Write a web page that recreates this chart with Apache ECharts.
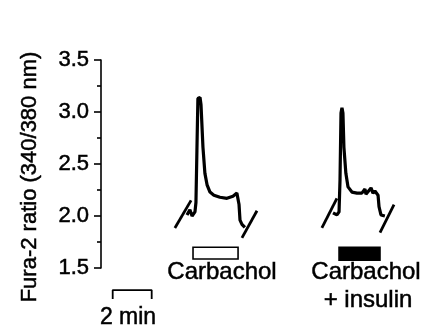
<!DOCTYPE html>
<html><head><meta charset="utf-8">
<script src="https://cdn.jsdelivr.net/npm/echarts@6/dist/echarts.min.js"></script>
<style>html,body{margin:0;padding:0;background:#fff}#c{width:426px;height:329px}</style>
</head><body><div id="c"></div>
<script>
// time in minutes (hidden axis), ratio values
const yTicks = [1.5, 2.0, 2.5, 3.0, 3.5];
const trace1T = [4.41,4.56,4.67,4.82,4.87,4.92,4.97,5.08,5.13,5.23,5.33,5.44,5.59,5.79,6.10,6.46,6.77,6.97,7.08,7.13,7.23,7.38];
const trace1V = [2.01,2.06,2.00,2.04,2.13,2.63,3.13,3.14,3.07,2.66,2.41,2.30,2.23,2.20,2.18,2.17,2.19,2.22,2.11,1.96,1.92,1.89];
const trace2T = [11.90,12.10,12.21,12.26,12.31,12.36,12.41,12.46,12.56,12.67,12.87,13.13,13.38,13.54,13.59,13.69,13.85,13.95,14.05,14.21,14.26,14.36,14.56];
const trace2V = [2.03,2.01,2.04,2.35,2.99,3.04,2.99,2.66,2.41,2.28,2.23,2.22,2.22,2.26,2.21,2.22,2.27,2.22,2.24,2.20,2.09,2.01,2.00];
const breakLines = [
  [[3.79,1.885],[4.62,2.15]],
  [[7.23,1.79],[8.00,2.05]],
  [[11.33,1.885],[12.10,2.17]],
  [[14.31,1.84],[15.03,2.11]]
];
const stimBars = [[4.72,7.03,1.587,1.70,0],[12.21,14.31,1.575,1.70,1]];
const stimLabels = ['Carbachol','Carbachol','+ insulin'];
const scaleBarT = [0.6,0.6,2.6,2.6];
const scaleBarV = [1.202,1.288,1.288,1.202];
const scaleLabel = '2 min';
const yName = 'Fura-2 ratio (340/380 nm)';

const FONT = 'Liberation Sans, Arial, sans-serif';
const chart = echarts.init(document.getElementById('c'));
const zip = (a,b)=>a.map((x,i)=>[x,b[i]]);
const series = [
  {type:'line',data:zip(trace1T,trace1V),showSymbol:false,lineStyle:{color:'#000',width:3.2},clip:false},
  {type:'line',data:zip(trace2T,trace2V),showSymbol:false,lineStyle:{color:'#000',width:3.2},clip:false},
  ...breakLines.map(d=>({type:'line',data:d,showSymbol:false,lineStyle:{color:'#000',width:2.8},clip:false})),
  {type:'line',data:zip(scaleBarT,scaleBarV),showSymbol:false,lineStyle:{color:'#000',width:1.8},clip:false},
  {type:'custom',clip:false,data:stimBars,renderItem:(params,api)=>{
    const p1 = api.coord([api.value(0),api.value(3)]);
    const p2 = api.coord([api.value(1),api.value(2)]);
    const filled = api.value(4)===1;
    return {type:'rect',shape:{x:p1[0],y:p1[1],width:p2[0]-p1[0],height:p2[1]-p1[1]},
      style:{fill:filled?'#000':'#fff',stroke:'#000',lineWidth:1.6}};
  }}
];
const txt = (s,x,y,size,rot)=>({type:'text',x:x,y:y,rotation:rot||0,
  style:{text:s,font:size+'px '+FONT,fill:'#000',stroke:'#000',lineWidth:0.5,align:'center',verticalAlign:'middle'}});
chart.setOption({
  animation:false,
  grid:{left:101,right:0,top:60,bottom:61},
  xAxis:{type:'value',min:0,max:16.67,show:false},
  yAxis:{type:'value',min:1.5,max:3.5,interval:0.5,
    axisLine:{show:true,lineStyle:{color:'#000',width:1.6}},
    axisTick:{show:true,inside:false,length:7,lineStyle:{color:'#000',width:1.6}},
    minorTick:{show:true,splitNumber:2,length:4,lineStyle:{color:'#000',width:1.6}},
    splitLine:{show:false},
    axisLabel:{margin:12,fontFamily:FONT,fontSize:22,color:'#000',textBorderColor:'#000',textBorderWidth:0.5,formatter:v=>v.toFixed(1)}
  },
  series:series,
  graphic:[
    txt(yName,30,177,22,Math.PI/2),
    txt(stimLabels[0],222,272,24),
    txt(stimLabels[1],366,272,24),
    txt(stimLabels[2],368,300,24),
    txt(scaleLabel,128,318,23)
  ]
});
</script></body></html>
